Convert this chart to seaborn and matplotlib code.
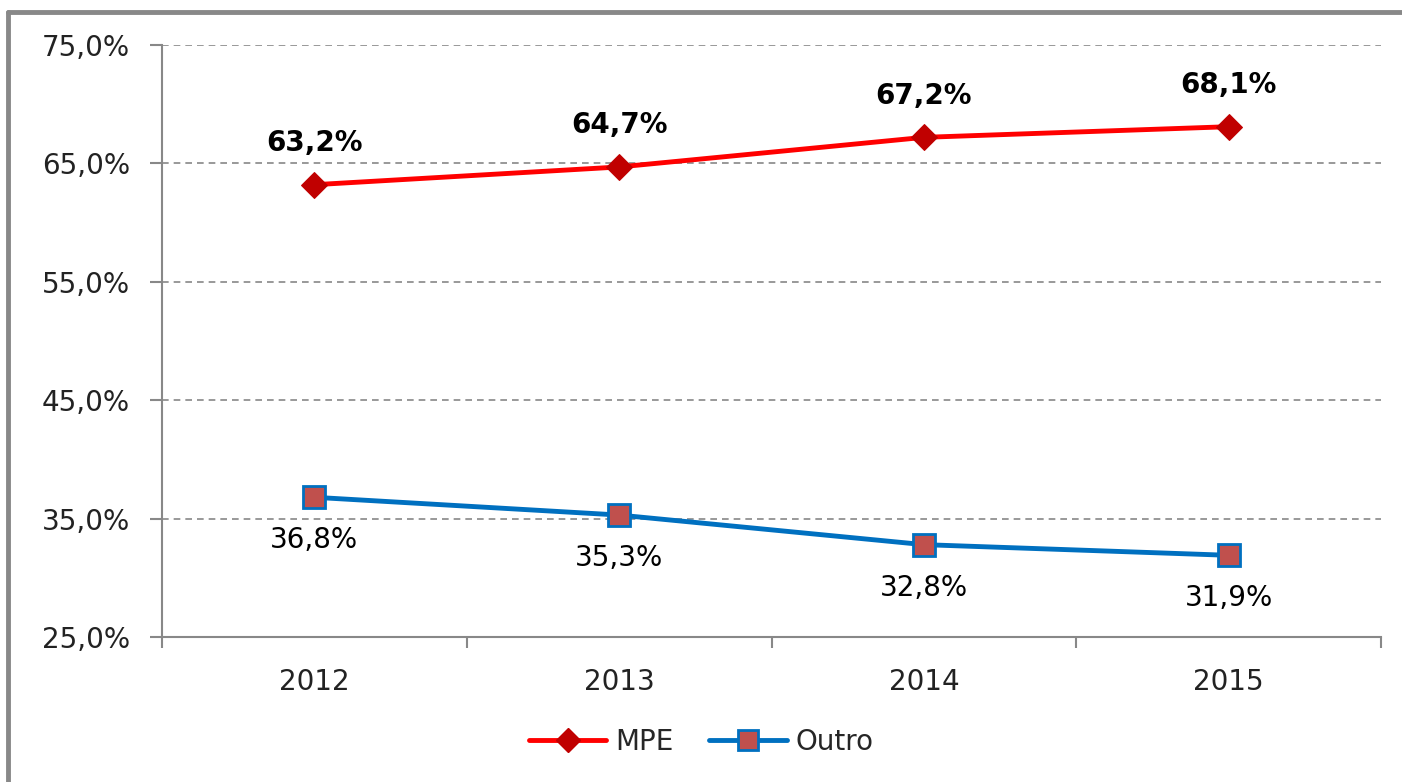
import numpy as np
import pandas as pd
import matplotlib
matplotlib.use('Agg')
import matplotlib.pyplot as plt
import seaborn as sns
from matplotlib.ticker import FuncFormatter
from matplotlib.lines import Line2D

# Data
anos = ['2012', '2013', '2014', '2015']
mpe = [63.2, 64.7, 67.2, 68.1]
outro = [36.8, 35.3, 32.8, 31.9]
y_ticks = [25, 35, 45, 55, 65, 75]

sns.set_style('white')
plt.rcParams['font.family'] = ['DejaVu Sans']

fig = plt.figure(figsize=(14.02, 7.82), dpi=100)
ax = fig.add_axes([162/1402, 1 - 637/782, (1381 - 162)/1402, (637 - 45)/782])

df = pd.DataFrame({'ano': anos, 'MPE': mpe, 'Outro': outro})
x = np.arange(len(anos))

sns.lineplot(x=x, y=df['MPE'], ax=ax, color='#FF0000', linewidth=3.5,
             marker='D', markersize=13, markerfacecolor='#C00000',
             markeredgecolor='#C00000', zorder=3)
sns.lineplot(x=x, y=df['Outro'], ax=ax, color='#0070C0', linewidth=3.5,
             marker='s', markersize=16, markerfacecolor='#C0504D',
             markeredgecolor='#0070C0', markeredgewidth=2, zorder=3)

# data labels
for xi, v in zip(x, mpe):
    ax.annotate(f'{v:.1f}%'.replace('.', ','), (xi, v), xytext=(0, 30),
                textcoords='offset points', ha='center', va='center',
                fontsize=20, fontweight='bold', color='black')
for xi, v in zip(x, outro):
    ax.annotate(f'{v:.1f}%'.replace('.', ','), (xi, v), xytext=(0, -31),
                textcoords='offset points', ha='center', va='center',
                fontsize=20, color='black')

ax.set_xlim(-0.5, 3.5)
ax.set_ylim(25, 75)
ax.set_yticks(y_ticks)
ax.yaxis.set_major_formatter(FuncFormatter(lambda v, p: f'{v:.1f}%'.replace('.', ',')))
ax.set_xticks([-0.5, 0.5, 1.5, 2.5, 3.5])
ax.set_xticklabels([])
ax.set_xticks(x, minor=True)
ax.set_xticklabels(anos, minor=True)
ax.tick_params(axis='x', which='major', bottom=True, length=8, width=1.5,
               color='#888888', direction='out')
ax.tick_params(axis='x', which='minor', bottom=True, length=0, pad=22,
               labelsize=20, labelcolor='#222222')
ax.tick_params(axis='y', left=True, length=9, width=1.5, color='#888888',
               direction='out', pad=14, labelsize=20, labelcolor='#222222')
ax.set_xlabel('')
ax.set_ylabel('')

for yv in y_ticks[1:]:
    ax.axhline(yv, color='#888888', linestyle=(0, (4, 3)), linewidth=1.2, zorder=1)

for s in ['top', 'right']:
    ax.spines[s].set_visible(False)
for s in ['left', 'bottom']:
    ax.spines[s].set_color('#888888')
    ax.spines[s].set_linewidth(1.5)

# legend
handles = [
    Line2D([], [], color='#FF0000', linewidth=3.5, marker='D', markersize=12,
           markerfacecolor='#C00000', markeredgecolor='#C00000'),
    Line2D([], [], color='#0070C0', linewidth=3.5, marker='s', markersize=15,
           markerfacecolor='#C0504D', markeredgecolor='#0070C0', markeredgewidth=2),
]
fig.legend(handles, ['MPE', 'Outro'], loc='center', bbox_to_anchor=(0.5, 1 - 742/782),
           ncol=2, frameon=False, fontsize=20, handlelength=2.8, handletextpad=0.3,
           columnspacing=1.3)

# outer frame (left and top only)
bx = 8/1402
by = 1 - 12/782
fig.add_artist(Line2D([bx, bx], [0, by], transform=fig.transFigure, color='#888888', linewidth=3.5))
fig.add_artist(Line2D([bx, 1], [by, by], transform=fig.transFigure, color='#888888', linewidth=3.5))

fig.savefig('out.png', dpi=100)
